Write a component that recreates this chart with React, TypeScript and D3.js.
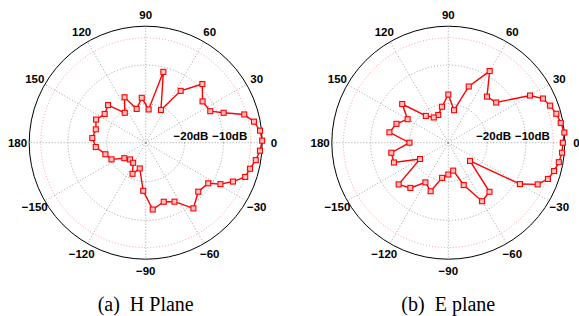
import * as d3 from 'd3';

// H plane: angle (deg) and gain (dB)
const hAngles = [
  1, 6, 11, 16, 21, 26, 36, 46, 56, 65, 76, 85, 95, 105, 115, 125, 135, 145, 155, 165, 175,
  185, 196, 206, 216, 227, 238, 247, 257, 267, 276, 287, 296, 306, 317, 327, 331, 336, 341,
  346, 351, 356,
];
const hGain = [
  0, -0.4, -1.6, -3.6, -8.5, -11.5, -11.9, -9.0, -13.9, -20.7, -11.2, -21.4, -18.4, -21.0,
  -17.1, -20.6, -16.3, -17.1, -15.9, -16.7, -16.2, -17.1, -19.2, -20.2, -23.2, -24.1, -23.9,
  -21.3, -23.2, -17.6, -12.7, -14.1, -13.1, -9.1, -11.5, -10.8, -8.0, -5.4, -2.9, -2.3, -1.3,
  -0.5,
];

// E plane
const eAngles = [
  0, 5, 10, 15, 20, 25, 30, 40, 50, 60, 70, 80, 90, 100, 110, 120, 130, 140, 150, 160, 170,
  180, 190, 200, 210, 220, 230, 240, 250, 260, 270, 280, 290, 300, 310, 320, 330, 335, 340,
  345, 350, 355,
];
const eGain = [
  -0.5, 0, -0.6, -1.2, -2.1, -3.1, -5.7, -13.9, -14.5, -8.7, -14.6, -21.5, -17.6, -20.6,
  -22.4, -22.5, -21.0, -14.5, -17.9, -15.8, -14.6, -20.0, -15.1, -15.1, -21.6, -13.3, -14.8,
  -18.2, -16.7, -20.8, -21.8, -22.7, -18.4, -12.6, -13.5, -22.7, -8.7, -4.6, -2.7, -1.8, -1.1,
  -0.6,
];

const spokeAngles = [0, 30, 60, 90, 120, 150, 180, 210, 240, 270, 300, 330];
const spokeLabels = ['0', '30', '60', '90', '120', '150', '180', '\u2212150', '\u2212120', '\u221290', '\u221260', '\u221230'];
const ringDb = [-20, -10];
const ringLabels = ['\u221220dB', '\u221210dB'];
const halfPowerDb = -3;

const R = 116.5;
const rScale = d3.scaleLinear().domain([-30, 0]).range([0, R]);
const rad = (deg: number) => (deg * Math.PI) / 180;

interface PolarProps {
  cx: number;
  cy: number;
  angles: number[];
  gain: number[];
  caption: string;
}

const Polar = ({ cx, cy, angles, gain, caption }: PolarProps) => {
  const pts = angles.map((a, i) => ({ a, g: gain[i] }));
  const line = d3
    .lineRadial<{ a: number; g: number }>()
    .angle((d) => rad(90 - d.a))
    .radius((d) => rScale(d.g))
    .curve(d3.curveLinearClosed);

  return (
    <g>
      <g transform={`translate(${cx},${cy})`}>
        {spokeAngles.map((a) => (
          <line
            key={`s${a}`}
            x1={0}
            y1={0}
            x2={R * Math.cos(rad(a))}
            y2={-R * Math.sin(rad(a))}
            stroke="#8c8c8c"
            strokeWidth={0.8}
            strokeDasharray="1,2"
          />
        ))}
        {ringDb.map((d) => (
          <circle key={`r${d}`} r={rScale(d)} fill="none" stroke="#8c8c8c" strokeWidth={0.8} strokeDasharray="1,2" />
        ))}
        <circle r={rScale(halfPowerDb)} fill="none" stroke="#ff8080" strokeWidth={0.8} strokeDasharray="1,2" />
        <circle r={R} fill="none" stroke="#000" strokeWidth={1} />
        {ringDb.map((d, i) => (
          <text
            key={`rl${d}`}
            x={rScale(d) - 11}
            y={-2.5}
            fontFamily="Liberation Sans, Arial, sans-serif"
            fontWeight="bold"
            fontSize={11.5}
          >
            {ringLabels[i]}
          </text>
        ))}
        {spokeAngles.map((a, i) => (
          <text
            key={`sl${a}`}
            x={1.1 * R * Math.cos(rad(a))}
            y={-1.1 * R * Math.sin(rad(a))}
            textAnchor="middle"
            dominantBaseline="central"
            fontFamily="Liberation Sans, Arial, sans-serif"
            fontWeight="bold"
            fontSize={11.5}
          >
            {spokeLabels[i]}
          </text>
        ))}
        <path d={line(pts) ?? ''} fill="none" stroke="#ff0000" strokeWidth={1.4} />
        {pts.map((p, i) => {
          const r = rScale(p.g);
          const x = r * Math.cos(rad(p.a));
          const y = -r * Math.sin(rad(p.a));
          return (
            <rect
              key={`m${i}`}
              x={x - 2.5}
              y={y - 2.5}
              width={5}
              height={5}
              fill="#ffc0c0"
              stroke="#ff0000"
              strokeWidth={1.1}
            />
          );
        })}
      </g>
      <text
        x={cx}
        y={311}
        textAnchor="middle"
        fontFamily="Liberation Serif, Times New Roman, serif"
        fontSize={20}
        style={{ whiteSpace: 'pre' }}
      >
        {caption}
      </text>
    </g>
  );
};

export default function App() {
  return (
    <svg width={579} height={316} style={{ position: 'absolute', left: 0, top: 0, background: '#fff' }}>
      <Polar cx={145.7} cy={142.7} angles={hAngles} gain={hGain} caption="(a)  H Plane" />
      <Polar cx={448.3} cy={142.7} angles={eAngles} gain={eGain} caption="(b)  E plane" />
    </svg>
  );
}
